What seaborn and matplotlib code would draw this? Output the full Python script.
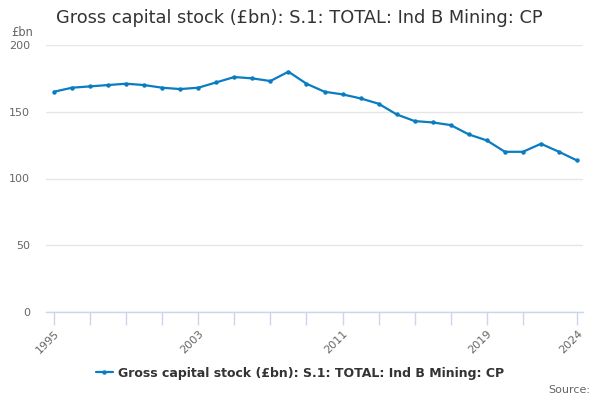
import matplotlib
matplotlib.use("Agg")
import matplotlib.pyplot as plt
import seaborn as sns
import pandas as pd

years = list(range(1995, 2025))
values = [165, 168, 169, 170, 171, 170, 168, 167, 168, 172,
          176, 175, 173, 180, 171, 165, 163, 160, 156, 148,
          143, 142, 140, 133, 128.5, 120, 120, 126, 120, 113.5]
series_name = "Gross capital stock (£bn): S.1: TOTAL: Ind B Mining: CP"
tick_years = list(range(1995, 2023, 2)) + [2024]
label_years = [1995, 2003, 2011, 2019, 2024]
y_ticks = [0, 50, 100, 150, 200]

df = pd.DataFrame({"year": years, "value": values})

sns.set_theme(style="white")
plt.rcParams['font.family'] = ['DejaVu Sans']

fig = plt.figure(figsize=(6, 4), dpi=100)
ax = fig.add_axes([46/600, 1 - 312/400, (583-46)/600, (312-45)/400])

color = "#0a7cc1"
sns.lineplot(data=df, x="year", y="value", ax=ax, color=color, linewidth=1.6,
             marker="o", markersize=3.2, markeredgewidth=0, label=series_name,
             legend=False)

ax.set_xlim(1994.56, 2024.33)
ax.set_ylim(0, 200)
ax.set_yticks(y_ticks)
ax.set_yticklabels([str(v) for v in y_ticks], color="#666666", fontsize=8)
ax.set_xticks(tick_years)
ax.set_xticklabels([str(y) if y in label_years else "" for y in tick_years],
                   rotation=45, ha="right", rotation_mode="anchor",
                   color="#666666", fontsize=8)
ax.tick_params(axis="x", length=9, width=1, color="#ccd6eb", pad=3, direction="out", bottom=True)
ax.tick_params(axis="y", length=0, pad=11.5)
for lbl in ax.get_yticklabels():
    lbl.set_horizontalalignment("right")

ax.grid(axis="y", color="#e6e6e6", linewidth=1)
ax.grid(axis="x", visible=False)
for s in ["top", "right", "left"]:
    ax.spines[s].set_visible(False)
ax.spines["bottom"].set_color("#ccd6eb")
ax.spines["bottom"].set_linewidth(1)
ax.set_xlabel("")
ax.set_ylabel("")

fig.text(56/600, 1 - 18/400, series_name, fontsize=12.8, color="#333333", va="center", ha="left")
fig.text(11/600, 1 - 32/400, "£bn", fontsize=8.3, color="#666666", va="center", ha="left")

handles, labels = ax.get_legend_handles_labels()
leg = fig.legend(handles, labels, loc="center", bbox_to_anchor=(300/600, 1 - 373/400),
                 frameon=False, fontsize=9, handlelength=1.3, handletextpad=0.4)
for t in leg.get_texts():
    t.set_fontweight("bold")
    t.set_color("#333333")

fig.text(590/600, 1 - 390/400, "Source:", fontsize=8, color="#666666", va="center", ha="right")

fig.savefig("out.png", dpi=100)
